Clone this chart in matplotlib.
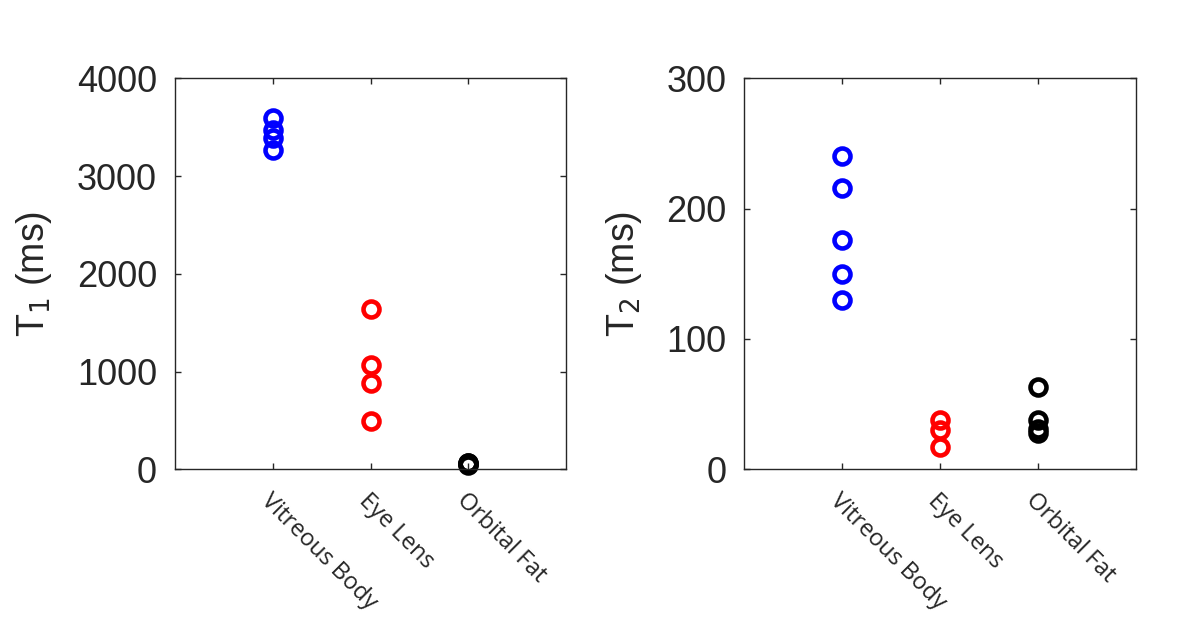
import numpy as np
import matplotlib
matplotlib.use("Agg")
import matplotlib.pyplot as plt

tissues = ["Vitreous Body", "Eye Lens", "Orbital Fat"]
colors = ["blue", "red", "black"]

# T1 values (ms)
t1_vitreous = [3590, 3470, 3385, 3265]
t1_lens = [1637, 1067, 880, 497]
t1_fat = [45, 55, 62, 68]

# T2 values (ms)
t2_vitreous = [240, 216, 176, 150, 130]
t2_lens = [38, 30, 17]
t2_fat = [63, 38, 31, 28]

t1_data = [t1_vitreous, t1_lens, t1_fat]
t2_data = [t2_vitreous, t2_lens, t2_fat]

axis_col = "#262626"


def draw_panel(ax, data, ymax, yticks, label):
    for i, (vals, col) in enumerate(zip(data, colors)):
        ax.plot(np.full(len(vals), i + 1), vals, "o", mfc="none", mec=col,
                ms=11.5, mew=3.3, linestyle="none", clip_on=False)
    ax.set_xlim(0, 4)
    ax.set_ylim(0, ymax)
    ax.set_xticks([1, 2, 3])
    ax.set_xticklabels(tissues, rotation=-45, ha="left", va="top",
                       rotation_mode="anchor", fontsize=17,
                       family=["Open Sans", "DejaVu Sans"], color="black")
    ax.set_yticks(yticks)
    ax.tick_params(direction="in", top=True, right=True, length=4.5, width=1,
                   color=axis_col, labelcolor=axis_col)
    ax.tick_params(axis="y", pad=13)
    ax.tick_params(axis="x", pad=14)
    for lab in ax.get_yticklabels():
        lab.set_fontsize(26)
        lab.set_family("Liberation Sans")
    for sp in ax.spines.values():
        sp.set_color(axis_col)
        sp.set_linewidth(1)
    ax.set_ylabel(label, fontsize=27, family="Liberation Sans", color=axis_col,
                  labelpad=16)


fig = plt.figure(figsize=(11.8, 6.38), dpi=100)
ax1 = fig.add_axes([0.1483, 0.2644, 0.3314, 0.6129])
ax2 = fig.add_axes([0.6308, 0.2644, 0.3319, 0.6129])

draw_panel(ax1, t1_data, 4000, [0, 1000, 2000, 3000, 4000], r"T$_1$ (ms)")
draw_panel(ax2, t2_data, 300, [0, 100, 200, 300], r"T$_2$ (ms)")

fig.savefig("out.png", dpi=100)
